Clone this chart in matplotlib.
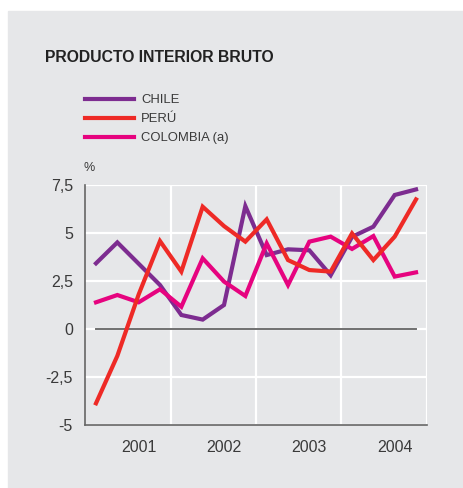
import matplotlib
matplotlib.use('Agg')
import matplotlib.pyplot as plt
from matplotlib.patches import Rectangle
import numpy as np

plt.rcParams['font.family'] = ['Liberation Sans', 'DejaVu Sans']

# PIB trimestral, variación % (2001-2004)
chile = [3.42, 4.51, 3.4, 2.29, 0.73, 0.49, 1.25, 6.4,
         3.85, 4.15, 4.1, 2.8, 4.8, 5.33, 6.98, 7.27]
peru = [-3.87, -1.4, 1.8, 4.58, 2.99, 6.37, 5.36, 4.55,
        5.71, 3.59, 3.07, 2.99, 4.98, 3.59, 4.81, 6.75]
colombia = [1.39, 1.77, 1.39, 2.07, 1.16, 3.68, 2.47, 1.72,
            4.46, 2.29, 4.55, 4.81, 4.17, 4.84, 2.73, 2.95]
years = ['2001', '2002', '2003', '2004']
yticks = [-5, -2.5, 0, 2.5, 5, 7.5]
ylabels = ['-5', '-2,5', '0', '2,5', '5', '7,5']

bg = '#e6e7e9'
txt = '#3a3a3a'

fig = plt.figure(figsize=(4.63, 4.88), dpi=100)
fig.patches.append(Rectangle((8 / 463, 0), 1, (488 - 11) / 488,
                             transform=fig.transFigure, color=bg, zorder=-5))

ax = fig.add_axes([0.1843, 0.1291, 0.7373, 0.4918])
ax.set_facecolor(bg)

x = np.arange(len(chile)) + 0.5

for v in [4, 8, 12, 16]:
    ax.axvline(v, color='white', lw=1.6, zorder=1)
for v in yticks:
    ax.axhline(v, color='white', lw=1.6, zorder=1)
ax.plot([x[0], x[-1]], [0, 0], color='#707070', lw=1.4, zorder=2)

ax.plot(x, chile, color='#7d2c90', lw=3, zorder=3, solid_joinstyle='miter')
ax.plot(x, peru, color='#ee2a26', lw=3, zorder=4, solid_joinstyle='miter')
ax.plot(x, colombia, color='#e6037f', lw=3, zorder=3, solid_joinstyle='miter')

ax.set_xlim(0, 16)
ax.set_ylim(-5, 7.5)
ax.set_yticks(yticks)
ax.set_yticklabels(ylabels)
ax.set_xticks([2.5, 6.5, 10.5, 14.5])
ax.set_xticklabels(years)
ax.tick_params(length=0, labelsize=11.5, colors=txt)
ax.tick_params(axis='x', pad=11)
ax.tick_params(axis='y', pad=9)
for s in ['top', 'right']:
    ax.spines[s].set_visible(False)
for s in ['left', 'bottom']:
    ax.spines[s].set_color('#666666')
    ax.spines[s].set_linewidth(1.2)
    ax.spines[s].set_zorder(5)

fig.text(45 / 463, 1 - 58 / 488, 'PRODUCTO INTERIOR BRUTO', fontsize=11.3,
         fontweight='bold', color='#222222', va='center', ha='left')
fig.text(83 / 463, 1 - 168 / 488, '%', fontsize=9, color=txt, va='center')

legend = [('CHILE', '#7d2c90', 99), ('PERÚ', '#ee2a26', 118),
          ('COLOMBIA (a)', '#e6037f', 137)]
for name, c, yy in legend:
    fig.lines.append(plt.Line2D([85 / 463, 134 / 463], [1 - yy / 488, 1 - yy / 488],
                                transform=fig.transFigure, color=c, lw=3))
    fig.text(141 / 463, 1 - (yy + 1) / 488, name, fontsize=9.4, color=txt, va='center')

fig.savefig('out.png', dpi=100)
